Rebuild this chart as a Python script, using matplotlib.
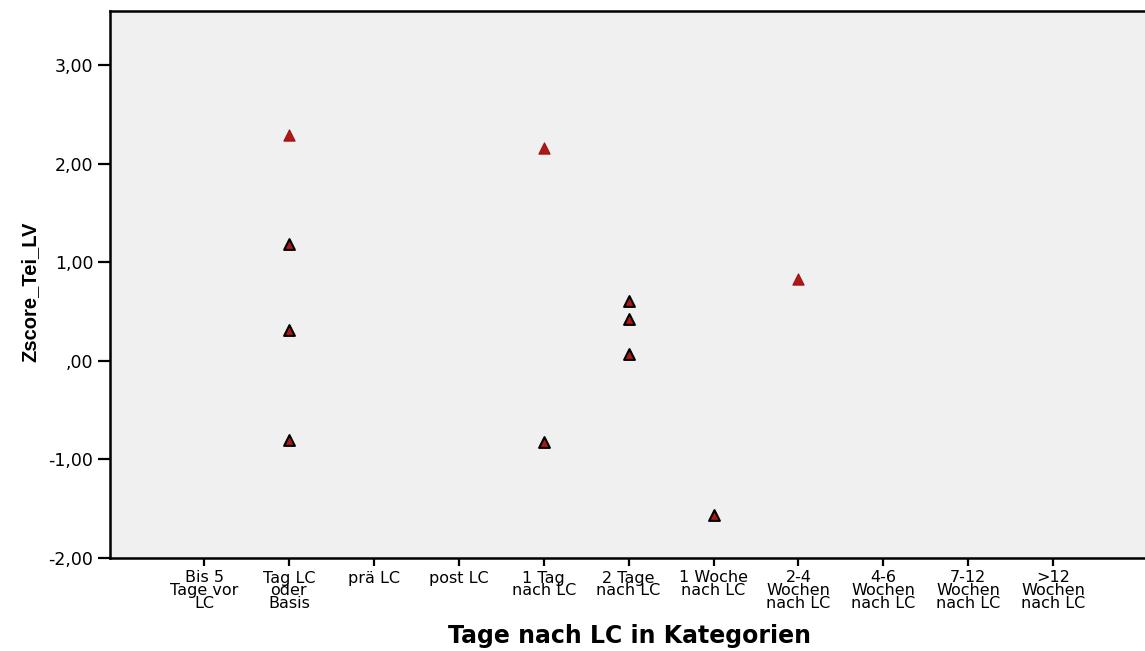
import matplotlib
matplotlib.use("Agg")
import matplotlib.pyplot as plt

plt.rcParams['font.family'] = ['DejaVu Sans']

categories = ["Bis 5\nTage vor\nLC", "Tag LC\noder\nBasis", "prä LC", "post LC",
              "1 Tag\nnach LC", "2 Tage\nnach LC", "1 Woche\nnach LC",
              "2-4\nWochen\nnach LC", "4-6\nWochen\nnach LC", "7-12\nWochen\nnach LC",
              ">12\nWochen\nnach LC"]

# red triangles (no dark edge)
red_cat = ["Tag LC\noder\nBasis", "1 Tag\nnach LC", "2-4\nWochen\nnach LC"]
red_val = [2.29, 2.16, 0.83]

# triangles with black edge
blk_cat = ["Tag LC\noder\nBasis", "Tag LC\noder\nBasis", "Tag LC\noder\nBasis",
           "1 Tag\nnach LC", "2 Tage\nnach LC", "2 Tage\nnach LC", "2 Tage\nnach LC",
           "1 Woche\nnach LC"]
blk_val = [1.19, 0.31, -0.80, -0.82, 0.61, 0.42, 0.07, -1.56]

yticks = [-2, -1, 0, 1, 2, 3]
ytick_labels = ["-2,00", "-1,00", ",00", "1,00", "2,00", "3,00"]

fig = plt.figure(figsize=(11.45, 6.51), dpi=100)
ax = fig.add_axes([110 / 1145, 1 - 558 / 651, 1040 / 1145, 547 / 651])
ax.set_facecolor("#f0f0f0")

idx = {c: i for i, c in enumerate(categories)}
ax.scatter([idx[c] for c in red_cat], red_val, marker="^", s=65,
           color="#b01818", edgecolors="#a01010", linewidths=0.8, zorder=3)
ax.scatter([idx[c] for c in blk_cat], blk_val, marker="^", s=60,
           color="#b01818", edgecolors="black", linewidths=1.5, zorder=3)

ax.set_xlim(-1.107, 11.14)
ax.set_ylim(-2, 3.55)
ax.set_xticks(range(len(categories)))
ax.set_xticklabels(categories, fontsize=11.5, linespacing=0.83)
ax.set_yticks(yticks)
ax.set_yticklabels(ytick_labels, fontsize=12.5)

for s in ["left", "bottom", "top"]:
    ax.spines[s].set_linewidth(1.8)
ax.spines["right"].set_visible(False)
ax.tick_params(axis="y", direction="out", length=9, width=1.6, pad=3)
ax.tick_params(axis="x", direction="out", length=6, width=1.6, pad=3)

ax.set_xlabel("Tage nach LC in Kategorien", fontsize=17, fontweight="bold", labelpad=9)
ax.set_ylabel("Zscore_Tei_LV", fontsize=14.5, fontweight="bold",
              family=['Liberation Sans', 'DejaVu Sans'])
ax.yaxis.set_label_coords(-0.068, 0.486)

fig.savefig("out.png", dpi=100)
